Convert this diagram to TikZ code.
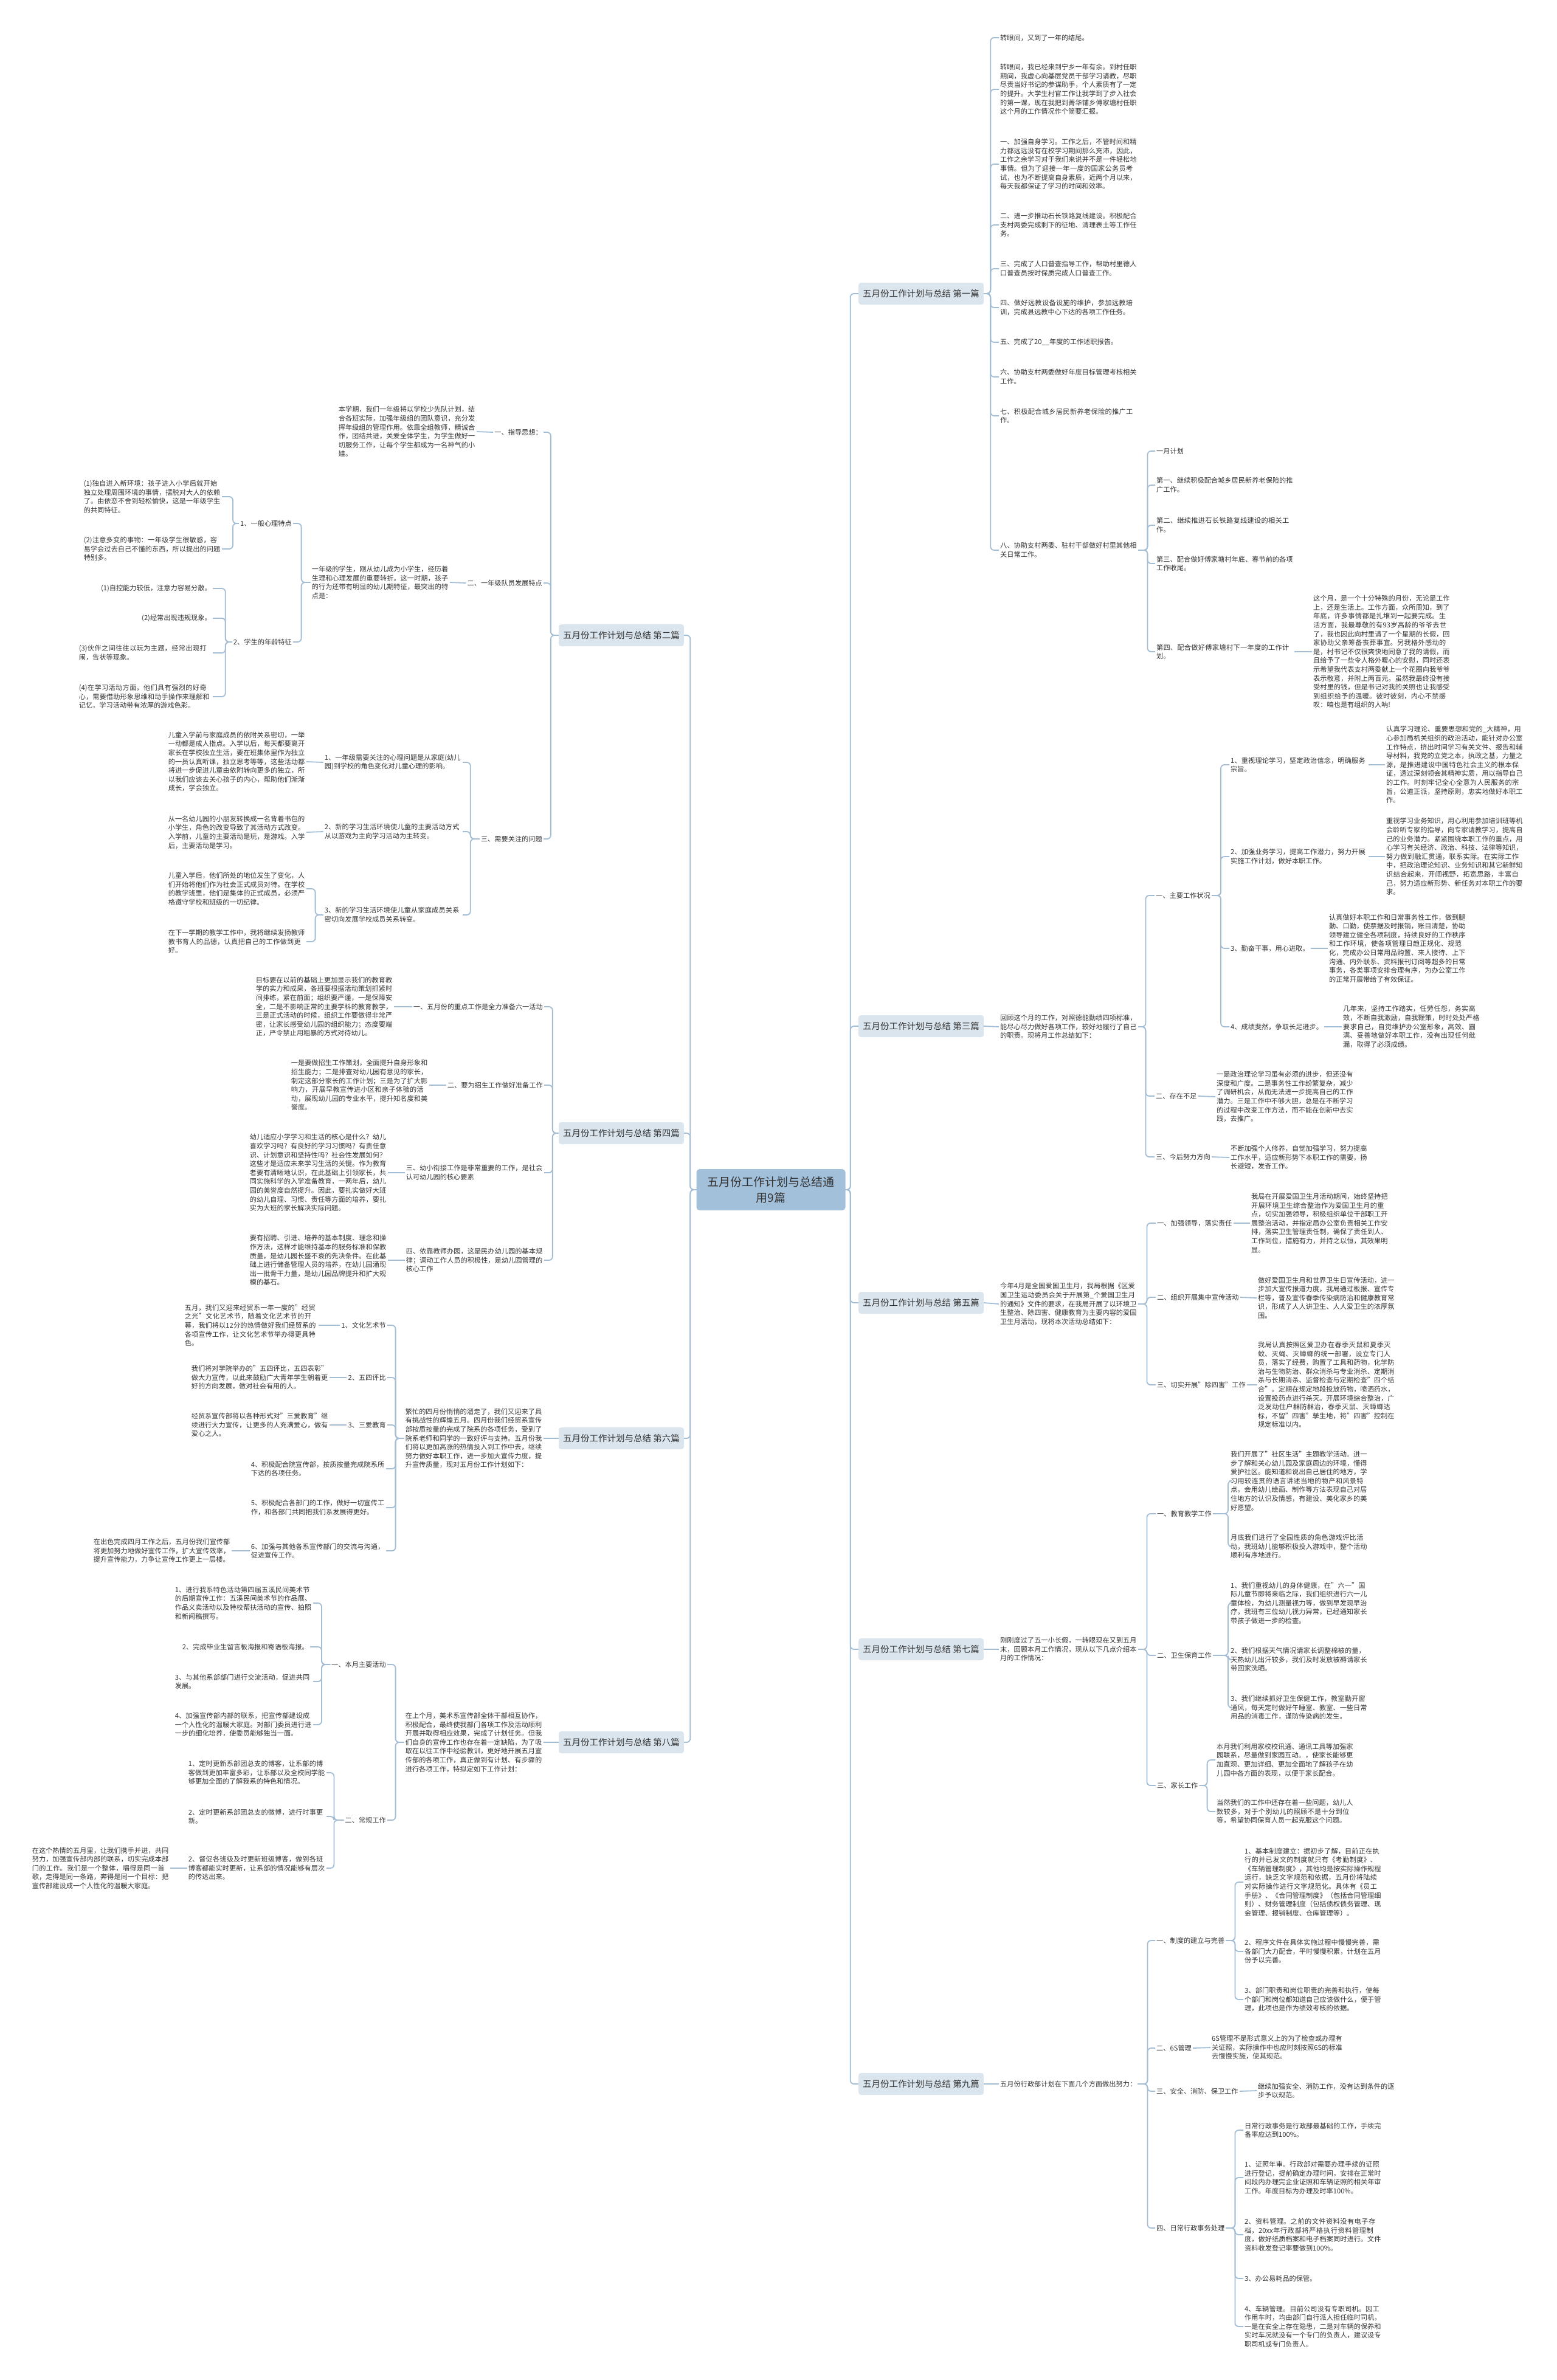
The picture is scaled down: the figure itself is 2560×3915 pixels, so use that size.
\documentclass[tikz,border=0pt]{standalone}
\usepackage{fontspec}
\setmainfont{Noto Sans CJK SC}
\XeTeXlinebreaklocale "zh"
\XeTeXlinebreakskip=0pt plus 1pt
\definecolor{linec}{RGB}{163,189,212}
\definecolor{topicfill}{RGB}{218,229,238}
\definecolor{rootfill}{RGB}{163,192,219}
\definecolor{textc}{RGB}{51,51,51}
\begin{document}
\begin{tikzpicture}[x=1pt, y=-1pt,
  every node/.style={text=textc, font=\fontsize{11.2}{14.6}\selectfont, inner sep=2pt},
  para/.style={text width=#1, align=left},
  topic/.style={fill=topicfill, rounded corners=4pt, font=\fontsize{14.5}{17}\selectfont, minimum height=36pt, inner xsep=7pt},
  root/.style={fill=rootfill, rounded corners=5pt, font=\fontsize{19}{26}\selectfont, align=center, inner xsep=18pt, inner ysep=12pt},
  link/.style={draw=linec, line width=1.8pt, rounded corners=6pt}]
\fill[white] (0,0) rectangle (2560,3915);
\path[use as bounding box] (0,0) rectangle (2560,3915);

% centre and the nine articles
\node[root] (root) at (1268,1957) {五月份工作计划与总结通\\用9篇};
\node[topic, anchor=west] (t1) at (1412,483) {五月份工作计划与总结 第一篇};
\node[topic, anchor=west] (t3) at (1412,1688) {五月份工作计划与总结 第三篇};
\node[topic, anchor=west] (t5) at (1412,2143) {五月份工作计划与总结 第五篇};
\node[topic, anchor=west] (t7) at (1412,2713) {五月份工作计划与总结 第七篇};
\node[topic, anchor=west] (t9) at (1412,3428) {五月份工作计划与总结 第九篇};
\node[topic, anchor=east] (t2) at (1125,1045) {五月份工作计划与总结 第二篇};
\node[topic, anchor=east] (t4) at (1125,1864) {五月份工作计划与总结 第四篇};
\node[topic, anchor=east] (t6) at (1125,2366) {五月份工作计划与总结 第六篇};
\node[topic, anchor=east] (t8) at (1125,2866) {五月份工作计划与总结 第八篇};
\foreach \t in {t1,t3,t5,t7,t9} \draw[link] (root.east) -- ++(8,0) |- (\t.west);
\foreach \t in {t2,t4,t6,t8} \draw[link] (root.west) -- ++(-10,0) |- (\t.east);

% 第一篇
\node[anchor=west] (a1) at (1643,62) {转眼间，又到了一年的结尾。};
\node[para=225pt, anchor=west] (a2) at (1643,147) {转眼间，我已经来到宁乡一年有余。到村任职期间，我虚心向基层党员干部学习请教，尽职尽责当好书记的参谋助手，个人素质有了一定的提升。大学生村官工作让我学到了步入社会的第一课，现在我把到菁华铺乡傅家塘村任职这个月的工作情况作个简要汇报。};
\node[para=225pt, anchor=west] (a3) at (1643,270) {一、加强自身学习。工作之后，不管时间和精力都远远没有在校学习期间那么充沛，因此，工作之余学习对于我们来说并不是一件轻松地事情。但为了迎接一年一度的国家公务员考试，也为不断提高自身素质，近两个月以来，每天我都保证了学习的时间和效率。};
\node[para=225pt, anchor=west] (a4) at (1643,370) {二、进一步推动石长铁路复线建设。积极配合支村两委完成剩下的征地、清理表土等工作任务。};
\node[para=225pt, anchor=west] (a5) at (1643,442) {三、完成了人口普查指导工作，帮助村里德人口普查员按时保质完成人口普查工作。};
\node[para=225pt, anchor=west] (a6) at (1643,506) {四、做好远教设备设施的维护，参加远教培训，完成县远教中心下达的各项工作任务。};
\node[anchor=west] (a7) at (1643,563) {五、完成了20\_\_年度的工作述职报告。};
\node[para=225pt, anchor=west] (a8) at (1643,620) {六、协助支村两委做好年度目标管理考核相关工作。};
\node[para=225pt, anchor=west] (a9) at (1643,684) {七、积极配合城乡居民新养老保险的推广工作。};
\node[para=225pt, anchor=west] (a10) at (1643,905) {八、协助支村两委、驻村干部做好村里其他相关日常工作。};
\foreach \c in {a1,a2,a3,a4,a5,a6,a7,a8,a9,a10} \draw[link] (t1.east) -- ++(11,0) |- (\c.west);
\node[anchor=west] (b1) at (1900,742) {一月计划};
\node[para=225pt, anchor=west] (b2) at (1900,798) {第一、继续积极配合城乡居民新养老保险的推广工作。};
\node[para=225pt, anchor=west] (b3) at (1900,864) {第二、继续推进石长铁路复线建设的相关工作。};
\node[para=225pt, anchor=west] (b4) at (1900,927) {第三、配合做好傅家塘村年底、春节前的各项工作收尾。};
\node[para=225pt, anchor=west] (b5) at (1900,1072) {第四、配合做好傅家塘村下一年度的工作计划。};
\foreach \c in {b1,b2,b3,b4,b5} \draw[link] (a10.east) -- ++(15,0) |- (\c.west);
\node[para=225pt, anchor=west] (b6) at (2158,1072) {这个月，是一个十分特殊的月份，无论是工作上，还是生活上。工作方面，众所周知，到了年底，许多事情都是扎堆到一起要完成。生活方面，我最尊敬的有93岁高龄的爷爷去世了，我也因此向村里请了一个星期的长假，回家协助父亲筹备丧葬事宜。另我格外感动的是，村书记不仅很爽快地同意了我的请假，而且给予了一些令人格外暖心的安慰，同时还表示希望我代表支村两委献上一个花圈向我爷爷表示敬意，并附上两百元。虽然我最终没有接受村里的钱，但是书记对我的关照也让我感受到组织给予的温暖。彼时彼刻，内心不禁感叹：咱也是有组织的人呐!};
\draw[link] (b5.east) -- (b6.west);

% 第三篇
\node[para=225pt, anchor=west] (c1) at (1643,1689) {回顾这个月的工作，对照德能勤绩四项标准，能尽心尽力做好各项工作，较好地履行了自己的职责。现将月工作总结如下：};
\draw[link] (t3.east) -- (c1.west);
\node[anchor=west] (c2) at (1899,1473) {一、主要工作状况};
\node[anchor=west] (c3) at (1899,1803) {二、存在不足};
\node[anchor=west] (c4) at (1899,1903) {三、今后努力方向};
\foreach \c in {c2,c3,c4} \draw[link] (c1.east) -- ++(12,0) |- (\c.west);
\node[para=225pt, anchor=west] (c5) at (2022,1258) {1、重视理论学习，坚定政治信念，明确服务宗旨。};
\node[para=225pt, anchor=west] (c6) at (2022,1409) {2、加强业务学习，提高工作潜力，努力开展实施工作计划，做好本职工作。};
\node[anchor=west] (c7) at (2022,1560) {3、勤奋干事，用心进取。};
\node[anchor=west] (c8) at (2022,1689) {4、成绩斐然，争取长足进步。};
\foreach \c in {c5,c6,c7,c8} \draw[link] (c2.east) -- ++(15,0) |- (\c.west);
\node[para=225pt, anchor=west] (c5p) at (2278,1258) {认真学习理论、重要思想和党的\_大精神，用心参加局机关组织的政治活动，能针对办公室工作特点，挤出时间学习有关文件、报告和辅导材料，我党的立党之本，执政之基，力量之源，是推进建设中国特色社会主义的根本保证，透过深刻领会其精神实质，用以指导自己的工作。时刻牢记全心全意为人民服务的宗旨，公道正派，坚持原则，忠实地做好本职工作。};
\node[para=225pt, anchor=west] (c6p) at (2278,1409) {重视学习业务知识，用心利用参加培训班等机会聆听专家的指导，向专家请教学习，提高自己的业务潜力。紧紧围绕本职工作的重点，用心学习有关经济、政治、科技、法律等知识，努力做到融汇贯通，联系实际。在实际工作中，把政治理论知识、业务知识和其它新鲜知识结合起来，开阔视野，拓宽思路，丰富自己，努力适应新形势、新任务对本职工作的要求。};
\node[para=225pt, anchor=west] (c7p) at (2184,1560) {认真做好本职工作和日常事务性工作，做到腿勤、口勤，使票据及时报销，账目清楚，协助领导建立健全各项制度，持续良好的工作秩序和工作环境，使各项管理日趋正规化、规范化，完成办公日常用品购置、来人接待、上下沟通、内外联系、资料报刊订阅等超多的日常事务，各类事项安排合理有序，为办公室工作的正常开展带给了有效保证。};
\node[para=225pt, anchor=west] (c8p) at (2207,1689) {几年来，坚持工作踏实，任劳任怨，务实高效，不断自我激励，自我鞭策，时时处处严格要求自己，自觉维护办公室形象，高效、圆满、妥善地做好本职工作，没有出现任何纰漏，取得了必须成绩。};
\node[para=225pt, anchor=west] (c3p) at (1999,1804) {一是政治理论学习虽有必须的进步，但还没有深度和广度。二是事务性工作纷繁复杂，减少了调研机会，从而无法进一步提高自己的工作潜力。三是工作中不够大胆，总是在不断学习的过程中改变工作方法，而不能在创新中去实践，去推广。};
\node[para=225pt, anchor=west] (c4p) at (2022,1904) {不断加强个人修养，自觉加强学习，努力提高工作水平，适应新形势下本职工作的需要，扬长避短，发奋工作。};
\draw[link] (c5.east) -- (c5p.west);
\draw[link] (c6.east) -- (c6p.west);
\draw[link] (c7.east) -- (c7p.west);
\draw[link] (c8.east) -- (c8p.west);
\draw[link] (c3.east) -- (c3p.west);
\draw[link] (c4.east) -- (c4p.west);

% 第五篇
\node[para=225pt, anchor=west] (d1) at (1643,2145) {今年4月是全国爱国卫生月，我局根据《区爱国卫生运动委员会关于开展第\_个爱国卫生月的通知》文件的要求，在我局开展了以环境卫生整治、除四害、健康教育为主要内容的爱国卫生月活动，现将本次活动总结如下：};
\draw[link] (t5.east) -- (d1.west);
\node[anchor=west] (d2) at (1901,2012) {一、加强领导，落实责任};
\node[anchor=west] (d3) at (1901,2134) {二、组织开展集中宣传活动};
\node[anchor=west] (d4) at (1901,2278) {三、切实开展"除四害"工作};
\foreach \c in {d2,d3,d4} \draw[link] (d1.east) -- ++(14,0) |- (\c.west);
\node[para=225pt, anchor=west] (d2p) at (2056,2012) {我局在开展爱国卫生月活动期间，始终坚持把开展环境卫生综合整治作为爱国卫生月的重点，切实加强领导，积极组织单位干部职工开展整治活动，并指定局办公室负责相关工作安排，落实卫生管理责任制，确保了责任到人、工作到位，措施有力，并持之以恒，其效果明显。};
\node[para=225pt, anchor=west] (d3p) at (2067,2135) {做好爱国卫生月和世界卫生日宣传活动，进一步加大宣传报道力度，我局通过板报、宣传专栏等，普及宣传春季传染病防治和健康教育常识，形成了人人讲卫生、人人爱卫生的浓厚氛围。};
\node[para=225pt, anchor=west] (d4p) at (2067,2278) {我局认真按照区爱卫办在春季灭鼠和夏季灭蚊、灭蝇、灭蟑螂的统一部署，设立专门人员，落实了经费，购置了工具和药物，化学防治与生物防治、群众消杀与专业消杀、定期消杀与长期消杀、监督检查与定期检查"四个结合"。定期在规定地段投放药物，喷洒药水，设置投药点进行杀灭。开展环境综合整治，广泛发动住户群防群治，春季灭鼠、灭蟑螂达标，不留"四害"孳生地，将"四害"控制在规定标准以内。};
\draw[link] (d2.east) -- (d2p.west);
\draw[link] (d3.east) -- (d3p.west);
\draw[link] (d4.east) -- (d4p.west);

% 第七篇
\node[para=225pt, anchor=west] (e1) at (1643,2713) {刚刚度过了五一小长假，一转眼现在又到五月末，回顾本月工作情况，现从以下几点介绍本月的工作情况：};
\draw[link] (t7.east) -- (e1.west);
\node[anchor=west] (e2) at (1901,2490) {一、教育教学工作};
\node[anchor=west] (e3) at (1901,2723) {二、卫生保育工作};
\node[anchor=west] (e4) at (1901,2937) {三、家长工作};
\foreach \c in {e2,e3,e4} \draw[link] (e1.east) -- ++(14,0) |- (\c.west);
\node[para=225pt, anchor=west] (e2a) at (2022,2436) {我们开展了"社区生活"主题教学活动。进一步了解和关心幼儿园及家庭周边的环境，懂得爱护社区。能知道和说出自己居住的地方，学习用较连贯的语言讲述当地的物产和风景特点。会用幼儿绘画、制作等方法表现自己对居住地方的认识及情感，有建设、美化家乡的美好愿望。};
\node[para=225pt, anchor=west] (e2b) at (2022,2544) {月底我们进行了全园性质的角色游戏评比活动，我班幼儿能够积极投入游戏中，整个活动顺利有序地进行。};
\foreach \c in {e2a,e2b} \draw[link] (e2.east) -- ++(25,0) |- (\c.west);
\node[para=225pt, anchor=west] (e3a) at (2022,2637) {1、我们重视幼儿的身体健康，在"六一"国际儿童节即将来临之际，我们组织进行六一儿童体检，为幼儿测量视力等，做到早发现早治疗，我班有三位幼儿视力异常，已经通知家长带孩子做进一步的检查。};
\node[para=225pt, anchor=west] (e3b) at (2022,2730) {2、我们根据天气情况请家长调整棉被的量，天热幼儿出汗较多，我们及时发放被褥请家长带回家洗晒。};
\node[para=225pt, anchor=west] (e3c) at (2022,2809) {3、我们继续抓好卫生保健工作，教室勤开窗通风，每天定时做好午睡室、教室、一些日常用品的消毒工作，谨防传染病的发生。};
\foreach \c in {e3a,e3b,e3c} \draw[link] (e3.east) -- ++(25,0) |- (\c.west);
\node[para=225pt, anchor=west] (e4a) at (1999,2895) {本月我们利用家校校讯通、通讯工具等加强家园联系，尽量做到家园互动。，使家长能够更加直观、更加详细、更加全面地了解孩子在幼儿园中各方面的表现，以便于家长配合。};
\node[para=225pt, anchor=west] (e4b) at (1999,2980) {当然我们的工作中还存在着一些问题，幼儿人数较多，对于个别幼儿的照顾不是十分到位等，希望协同保育人员一起克服这个问题。};
\foreach \c in {e4a,e4b} \draw[link] (e4.east) -- ++(13,0) |- (\c.west);

% 第九篇
\node[anchor=west] (f1) at (1643,3428) {五月份行政部计划在下面几个方面做出努力：};
\draw[link] (t9.east) -- (f1.west);
\node[anchor=west] (f2) at (1900,3192) {一、制度的建立与完善};
\node[anchor=west] (f3) at (1900,3369) {二、6S管理};
\node[anchor=west] (f4) at (1900,3440) {三、安全、消防、保卫工作};
\node[anchor=west] (f5) at (1900,3665) {四、日常行政事务处理};
\foreach \c in {f2,f3,f4,f5} \draw[link] (f1.east) -- ++(16,0) |- (\c.west);
\node[para=225pt, anchor=west] (f2a) at (2045,3096) {1、基本制度建立：据初步了解，目前正在执行的并已发文的制度就只有《考勤制度》、《车辆管理制度》，其他均是按实际操作规程运行，缺乏文字规范和依据，五月份将陆续对实际操作进行文字规范化。具体有《员工手册》、《合同管理制度》（包括合同管理细则）、财务管理制度（包括债权债务管理、现金管理、报销制度、仓库管理等）。};
\node[para=225pt, anchor=west] (f2b) at (2045,3210) {2、程序文件在具体实施过程中慢慢完善，需各部门大力配合，平时慢慢积累，计划在五月份予以完善。};
\node[para=225pt, anchor=west] (f2c) at (2045,3289) {3、部门职责和岗位职责的完善和执行，使每个部门和岗位都知道自己应该做什么，便于管理，此项也是作为绩效考核的依据。};
\foreach \c in {f2a,f2b,f2c} \draw[link] (f2.east) -- ++(15,0) |- (\c.west);
\node[para=215pt, anchor=west] (f3a) at (1991,3368) {6S管理不是形式意义上的为了检查或办理有关证照，实际操作中也应时刻按照6S的标准去慢慢实施，使其规范。};
\draw[link] (f3.east) -- (f3a.west);
\node[para=225pt, anchor=west] (f4a) at (2067,3439) {继续加强安全、消防工作，没有达到条件的逐步予以规范。};
\draw[link] (f4.east) -- (f4a.west);
\node[para=225pt, anchor=west] (f5a) at (2045,3504) {日常行政事务是行政部最基础的工作，手续完备率应达到100\%。};
\node[para=225pt, anchor=west] (f5b) at (2045,3582) {1、证照年审。行政部对需要办理手续的证照进行登记，提前确定办理时间，安排在正常时间段内办理完企业证照和车辆证照的相关年审工作。年度目标为办理及时率100\%。};
\node[para=225pt, anchor=west] (f5c) at (2045,3676) {2、资料管理。之前的文件资料没有电子存档，20xx年行政部将严格执行资料管理制度，做好纸质档案和电子档案同时进行。文件资料收发登记率要做到100\%。};
\node[anchor=west] (f5d) at (2045,3748) {3、办公易耗品的保管。};
\node[para=225pt, anchor=west] (f5e) at (2045,3827) {4、车辆管理。目前公司没有专职司机。因工作用车时，均由部门自行派人担任临时司机，一是在安全上存在隐患，二是对车辆的保养和实时车况就没有一个专门的负责人，建议设专职司机或专门负责人。};
\foreach \c in {f5a,f5b,f5c,f5d,f5e} \draw[link] (f5.east) -- ++(15,0) |- (\c.west);

% 第二篇
\node[anchor=east] (g1) at (894,711) {一、指导思想：};
\node[anchor=east] (g2) at (894,959) {二、一年级队员发展特点};
\node[anchor=east] (g3) at (894,1380) {三、需要关注的问题};
\foreach \c in {g1,g2,g3} \draw[link] (t2.west) -- ++(-13,0) |- (\c.east);
\node[para=225pt, anchor=east] (g1p) at (784,710) {本学期，我们一年级将以学校少先队计划，结合各班实际，加强年级组的团队意识，充分发挥年级组的管理作用。依靠全组教师，精诚合作，团结共进，关爱全体学生，为学生做好一切服务工作，让每个学生都成为一名神气的小娃。};
\draw[link] (g1.west) -- (g1p.east);
\node[para=225pt, anchor=east] (g2p) at (740,958) {一年级的学生，刚从幼儿成为小学生，经历着生理和心理发展的重要转折。这一时期，孩子的行为还带有明显的幼儿期特征，最突出的特点是：};
\draw[link] (g2.west) -- (g2p.east);
\node[anchor=east] (g4) at (482,861) {1、一般心理特点};
\node[anchor=east] (g5) at (482,1056) {2、学生的年龄特征};
\foreach \c in {g4,g5} \draw[link] (g2p.west) -- ++(-15,0) |- (\c.east);
\node[para=225pt, anchor=east] (g4a) at (365,817) {(1)独自进入新环境：孩子进入小学后就开始独立处理周围环境的事情，摆脱对大人的依赖了。由依恋不舍到轻松愉快，这是一年级学生的共同特征。};
\node[para=225pt, anchor=east] (g4b) at (365,903) {(2)注意多变的事物：一年级学生很敏感，容易学会过去自己不懂的东西，所以提出的问题特别多。};
\foreach \c in {g4a,g4b} \draw[link] (g4.west) -- ++(-10,0) |- (\c.east);
\node[anchor=east] (g5a) at (350,968) {(1)自控能力较低，注意力容易分散。};
\node[anchor=east] (g5b) at (350,1017) {(2)经常出现违规现象。};
\node[para=218pt, anchor=east] (g5c) at (350,1074) {(3)伙伴之间往往以玩为主题，经常出现打闹，告状等现象。};
\node[para=218pt, anchor=east] (g5d) at (350,1146) {(4)在学习活动方面，他们具有强烈的好奇心，需要借助形象思维和动手操作来理解和记忆，学习活动带有浓厚的游戏色彩。};
\foreach \c in {g5a,g5b,g5c,g5d} \draw[link] (g5.west) -- ++(-11,0) |- (\c.east);
\node[para=225pt, anchor=east] (g6) at (761,1254) {1、一年级需要关注的心理问题是从家庭(幼儿园)到学校的角色变化对儿童心理的影响。};
\node[para=225pt, anchor=east] (g7) at (761,1368) {2、新的学习生活环境使儿童的主要活动方式从以游戏为主向学习活动为主转变。};
\node[para=225pt, anchor=east] (g8) at (761,1505) {3、新的学习生活环境使儿童从家庭成员关系密切向发展学校成员关系转变。};
\foreach \c in {g6,g7,g8} \draw[link] (g3.west) -- ++(-15,0) |- (\c.east);
\node[para=225pt, anchor=east] (g6p) at (504,1253) {儿童入学前与家庭成员的依附关系密切，一举一动都是成人指点。入学以后，每天都要离开家长在学校独立生活，要在班集体里作为独立的一员认真听课，独立思考等等，这些活动都将进一步促进儿童由依附转向更多的独立，所以我们应该去关心孩子的内心，帮助他们渐渐成长，学会独立。};
\node[para=225pt, anchor=east] (g7p) at (504,1369) {从一名幼儿园的小朋友转换成一名背着书包的小学生，角色的改变导致了其活动方式改变。入学前，儿童的主要活动是玩，是游戏。入学后，主要活动是学习。};
\draw[link] (g6.west) -- (g6p.east);
\draw[link] (g7.west) -- (g7p.east);
\node[para=225pt, anchor=east] (g8a) at (504,1462) {儿童入学后，他们所处的地位发生了变化，人们开始将他们作为社会正式成员对待。在学校的教学班里，他们是集体的正式成员，必须严格遵守学校和班级的一切纪律。};
\node[para=225pt, anchor=east] (g8b) at (504,1549) {在下一学期的教学工作中，我将继续发扬教师教书育人的品德，认真把自己的工作做到更好。};
\foreach \c in {g8a,g8b} \draw[link] (g8.west) -- ++(-13,0) |- (\c.east);

% 第四篇
\node[anchor=east] (h1) at (895,1656) {一、五月份的重点工作是全力准备六一活动};
\node[anchor=east] (h2) at (895,1785) {二、要为招生工作做好准备工作};
\node[para=225pt, anchor=east] (h3) at (895,1929) {三、幼小衔接工作是非常重要的工作，是社会认可幼儿园的核心要素};
\node[para=225pt, anchor=east] (h4) at (895,2073) {四、依靠教师办园，这是民办幼儿园的基本规律；调动工作人员的积极性，是幼儿园管理的核心工作};
\foreach \c in {h1,h2,h3,h4} \draw[link] (t4.west) -- ++(-10,0) |- (\c.east);
\node[para=225pt, anchor=east] (h1p) at (648,1656) {目标要在以前的基础上更加显示我们的教育教学的实力和成果，各班要根据活动策划抓紧时间排练，紧在前面；组织要严谨，一是保障安全，二是不影响正常的主要学科的教育教学，三是正式活动的时候，组织工作要做得非常严密，让家长感受幼儿园的组织能力；态度要端正，严令禁止用粗暴的方式对待幼儿。};
\node[para=225pt, anchor=east] (h2p) at (706,1785) {一是要做招生工作策划，全面提升自身形象和招生能力；二是排查对幼儿园有意见的家长，制定这部分家长的工作计划；三是为了扩大影响力，开展早教宣传进小区和亲子体验的活动，展现幼儿园的专业水平，提升知名度和美誉度。};
\node[para=225pt, anchor=east] (h3p) at (638,1929) {幼儿适应小学学习和生活的核心是什么？幼儿喜欢学习吗？有良好的学习习惯吗？有责任意识、计划意识和坚持性吗？社会性发展如何？这些才是适应未来学习生活的关键。作为教育者要有清晰地认识，在此基础上引领家长，共同实施科学的入学准备教育，一两年后，幼儿园的美誉度自然提升。因此，要扎实做好大班的幼儿自理、习惯、责任等方面的培养，要扎实为大班的家长解决实际问题。};
\node[para=225pt, anchor=east] (h4p) at (638,2073) {要有招聘、引进、培养的基本制度、理念和操作方法，这样才能维持基本的服务标准和保教质量，是幼儿园长盛不衰的先决条件。在此基础上进行储备管理人员的培养，在幼儿园涌现出一批骨干力量，是幼儿园品牌提升和扩大规模的基石。};
\draw[link] (h1.west) -- (h1p.east);
\draw[link] (h2.west) -- (h2p.east);
\draw[link] (h3.west) -- (h3p.east);
\draw[link] (h4.west) -- (h4p.east);

% 第六篇
\node[para=225pt, anchor=east] (k0) at (894,2366) {繁忙的四月份悄悄的溜走了，我们又迎来了具有挑战性的辉煌五月。四月份我们经贸系宣传部按质按量的完成了院系的各项任务，受到了院系老师和同学的一致好评与支持。五月份我们将以更加高涨的热情投入到工作中去，继续努力做好本职工作，进一步加大宣传力度，提升宣传质量，现对五月份工作计划如下：};
\draw[link] (t6.west) -- (k0.east);
\node[anchor=east] (k1) at (637,2180) {1、文化艺术节};
\node[anchor=east] (k2) at (637,2266) {2、五四评比};
\node[anchor=east] (k3) at (637,2344) {3、三爱教育};
\node[para=220pt, anchor=east] (k4) at (635,2416) {4、积极配合院宣传部，按质按量完成院系所下达的各项任务。};
\node[para=220pt, anchor=east] (k5) at (635,2480) {5、积极配合各部门的工作，做好一切宣传工作，和各部门共同把我们系发展得更好。};
\node[para=220pt, anchor=east] (k6) at (635,2551) {6、加强与其他各系宣传部门的交流与沟通，促进宣传工作。};
\foreach \c in {k1,k2,k3,k4,k5,k6} \draw[link] (k0.west) -- ++(-14,0) |- (\c.east);
\node[para=218pt, anchor=east] (k1p) at (524,2180) {五月，我们又迎来经贸系一年一度的"经贸之光"文化艺术节，随着文化艺术节的开幕，我们将以12分的热情做好我们经贸系的各项宣传工作，让文化艺术节举办得更具特色。};
\node[para=225pt, anchor=east] (k2p) at (542,2266) {我们将对学院举办的"五四评比，五四表彰"做大力宣传，以此来鼓励广大青年学生朝着更好的方向发展，做对社会有用的人。};
\node[para=225pt, anchor=east] (k3p) at (542,2344) {经贸系宣传部将以各种形式对"三爱教育"继续进行大力宣传，让更多的人充满爱心，做有爱心之人。};
\node[para=225pt, anchor=east] (k6p) at (381,2551) {在出色完成四月工作之后，五月份我们宣传部将更加努力地做好宣传工作，扩大宣传效率，提升宣传能力，力争让宣传工作更上一层楼。};
\draw[link] (k1.west) -- (k1p.east);
\draw[link] (k2.west) -- (k2p.east);
\draw[link] (k3.west) -- (k3p.east);
\draw[link] (k6.west) -- (k6p.east);

% 第八篇
\node[para=225pt, anchor=east] (m0) at (894,2866) {在上个月，美术系宣传部全体干部相互协作，积极配合，最终使我部门各项工作及活动顺利开展并取得相应效果，完成了计划任务。但我们自身的宣传工作也存在着一定缺陷，为了吸取在以往工作中经验教训，更好地开展五月宣传部的各项工作，真正做到有计划、有步骤的进行各项工作，特拟定如下工作计划：};
\draw[link] (t8.west) -- (m0.east);
\node[anchor=east] (m1) at (637,2738) {一、本月主要活动};
\node[anchor=east] (m2) at (637,2994) {二、常规工作};
\foreach \c in {m1,m2} \draw[link] (m0.west) -- ++(-14,0) |- (\c.east);
\node[para=225pt, anchor=east] (m1a) at (515,2637) {1、进行我系特色活动第四届五溪民间美术节的后期宣传工作：五溪民间美术节的作品展、作品义卖活动以及特校帮扶活动的宣传、拍照和新闻稿撰写。};
\node[anchor=east] (m1b) at (510,2709) {2、完成毕业生留言板海报和寄语板海报。};
\node[para=225pt, anchor=east] (m1c) at (515,2766) {3、与其他系部部门进行交流活动，促进共同发展。};
\node[para=225pt, anchor=east] (m1d) at (515,2837) {4、加强宣传部内部的联系，把宣传部建设成一个人性化的温暖大家庭。对部门委员进行进一步的细化培养，使委员能够独当一面。};
\foreach \c in {m1a,m1b,m1c,m1d} \draw[link] (m1.west) -- ++(-14,0) |- (\c.east);
\node[para=225pt, anchor=east] (m2a) at (537,2916) {1、定时更新系部团总支的博客，让系部的博客做到更加丰富多彩，让系部以及全校同学能够更加全面的了解我系的特色和情况。};
\node[para=225pt, anchor=east] (m2b) at (537,2988) {2、定时更新系部团总支的微博，进行时事更新。};
\node[para=225pt, anchor=east] (m2c) at (537,3073) {2、督促各班级及时更新班级博客，做到各班博客都能实时更新，让系部的情况能够有层次的传达出来。};
\foreach \c in {m2a,m2b,m2c} \draw[link] (m2.west) -- ++(-16,0) |- (\c.east);
\node[para=225pt, anchor=east] (m2cp) at (280,3073) {在这个热情的五月里，让我们携手并进，共同努力，加强宣传部内部的联系，切实完成本部门的工作。我们是一个整体，唱得是同一首歌，走得是同一条路，奔得是同一个目标：把宣传部建设成一个人性化的温暖大家庭。};
\draw[link] (m2c.west) -- (m2cp.east);
\end{tikzpicture}
\end{document}
